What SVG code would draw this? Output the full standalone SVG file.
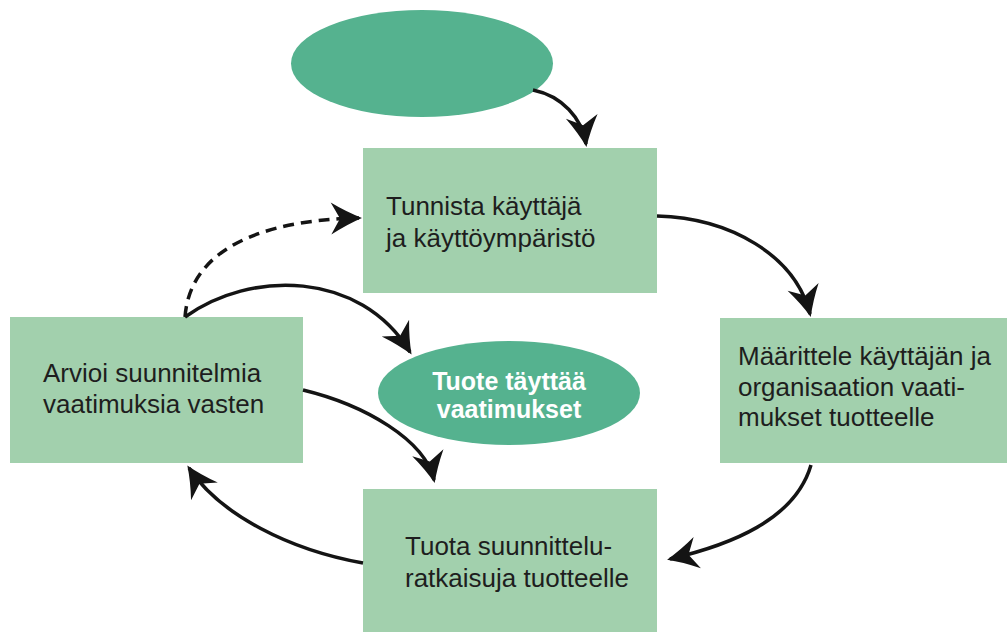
<svg xmlns="http://www.w3.org/2000/svg" width="1007" height="632" viewBox="0 0 1007 632">
<style>
.box{fill:#a2d0ad}
.ell{fill:#55b28f}
.t{font-family:"Liberation Sans",Arial,sans-serif;font-size:26px;fill:#1e1e1e}
.tb{font-family:"Liberation Sans",Arial,sans-serif;font-size:25px;font-weight:bold;fill:#ffffff;text-anchor:middle}
.c{fill:none;stroke:#141414;stroke-width:3.5;marker-end:url(#ah)}
.d{stroke-dasharray:11,7}
</style>
<defs>
<marker id="ah" viewBox="-34 -18 38 36" refX="0" refY="0" markerWidth="38" markerHeight="36" markerUnits="userSpaceOnUse" orient="auto">
<path d="M3,0 Q-12,-6 -28,-16 L-19,0 L-28,16 Q-12,6 3,0 Z" fill="#141414"/>
</marker>
</defs>
<rect width="1007" height="632" fill="#ffffff"/>
<g id="start">
<ellipse class="ell" cx="422" cy="63.5" rx="131" ry="53.5"/>
</g>
<g id="tunnista">
<rect class="box" x="363" y="148" width="294" height="145"/>
<text class="t" x="386" y="215">Tunnista käyttäjä</text>
<text class="t" x="386" y="247">ja käyttöympäristö</text>
</g>
<g id="maarittele">
<rect class="box" x="720" y="318" width="287" height="145"/>
<text class="t" x="738" y="365">Määrittele käyttäjän ja</text>
<text class="t" x="738" y="395.5">organisaation vaati-</text>
<text class="t" x="738" y="426">mukset tuotteelle</text>
</g>
<g id="tuota">
<rect class="box" x="363" y="489" width="294" height="143"/>
<text class="t" x="405" y="555">Tuota suunnittelu-</text>
<text class="t" x="405" y="587">ratkaisuja tuotteelle</text>
</g>
<g id="arvioi">
<rect class="box" x="10" y="317" width="293" height="146"/>
<text class="t" x="43" y="382">Arvioi suunnitelmia</text>
<text class="t" x="43" y="413">vaatimuksia vasten</text>
</g>
<g id="valmis">
<ellipse class="ell" cx="509" cy="393" rx="131" ry="52"/>
<text class="tb" x="509" y="390">Tuote täyttää</text>
<text class="tb" x="509" y="418">vaatimukset</text>
</g>
<g id="connectors">
<path class="c" d="M533,90 C562,96 582,118 586,144"/>
<path class="c" d="M657,216 C730,218 795,255 810,314"/>
<path class="c" d="M811,465 C795,520 730,545 670,559"/>
<path class="c" d="M363,563 C290,550 220,515 189,468"/>
<path class="c d" d="M185,317 C190,250 260,220 359,218"/>
<path class="c" d="M185,317 C250,270 360,270 410,352"/>
<path class="c" d="M303,390 C365,405 425,440 434,480"/>
</g>
</svg>
